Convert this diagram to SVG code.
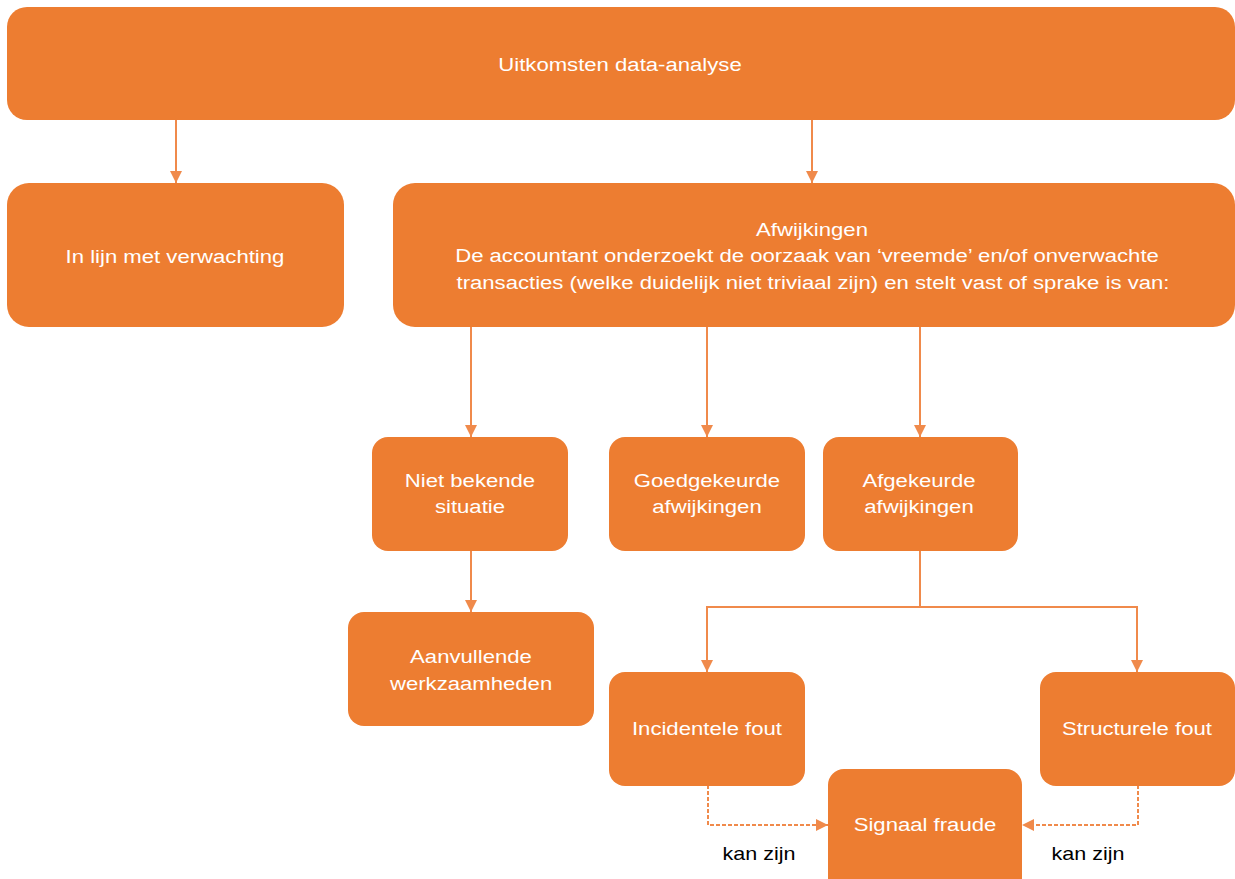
<svg xmlns="http://www.w3.org/2000/svg" width="1235" height="879" viewBox="0 0 1235 879">
<style>
.box{fill:#ED7D31;}
.t{font-family:"Liberation Sans",Arial,sans-serif;font-size:18px;fill:#FFFFFF;text-anchor:middle;transform-box:fill-box;transform-origin:center;transform:scaleX(1.23);}
.c{stroke:#F08A4B;stroke-width:2;fill:none;}
.d{stroke:#F08A4B;stroke-width:2;fill:none;stroke-dasharray:4,2;}
.k{font-family:"Liberation Sans",Arial,sans-serif;font-size:19px;fill:#000;text-anchor:middle;}
</style>
<defs>
<marker id="ah" viewBox="0 0 10 10" refX="10" refY="5" markerWidth="6" markerHeight="6" markerUnits="strokeWidth" orient="auto">
<path d="M0,0 L10,5 L0,10 z" fill="#F08A4B"/>
</marker>
</defs>
<rect width="1235" height="879" fill="#FFFFFF"/>
<g id="connectors">
<path class="c" d="M176,120 V183" marker-end="url(#ah)"/>
<path class="c" d="M812,120 V183" marker-end="url(#ah)"/>
<path class="c" d="M471,327 V437" marker-end="url(#ah)"/>
<path class="c" d="M707,327 V437" marker-end="url(#ah)"/>
<path class="c" d="M920,327 V437" marker-end="url(#ah)"/>
<path class="c" d="M471,550 V612" marker-end="url(#ah)"/>
<path class="c" d="M920,550 V607 H707 V672" marker-end="url(#ah)"/>
<path class="c" d="M920,607 H1137 V672" marker-end="url(#ah)"/>
<path class="d" d="M708,785 V825 H828" marker-end="url(#ah)"/>
<path class="d" d="M1138,785 V825 H1022" marker-end="url(#ah)"/>
</g>
<g id="n-top"><rect class="box" x="7" y="7" width="1228" height="113" rx="20"/><text class="t" x="620" y="71">Uitkomsten data-analyse</text></g>
<g id="n-lijn"><rect class="box" x="7" y="183" width="337" height="144" rx="22"/><text class="t" x="175" y="263">In lijn met verwachting</text></g>
<g id="n-afw"><rect class="box" x="393" y="183" width="842" height="144" rx="22"/>
<text class="t" x="812" y="236">Afwijkingen</text>
<text class="t" x="807" y="262">De accountant onderzoekt de oorzaak van ‘vreemde’ en/of onverwachte</text>
<text class="t" x="813" y="289">transacties (welke duidelijk niet triviaal zijn) en stelt vast of sprake is van:</text></g>
<g id="n-niet"><rect class="box" x="372" y="437" width="196" height="114" rx="16"/><text class="t" x="470" y="487">Niet bekende</text><text class="t" x="470" y="513">situatie</text></g>
<g id="n-goed"><rect class="box" x="609" y="437" width="196" height="114" rx="16"/><text class="t" x="707" y="487">Goedgekeurde</text><text class="t" x="707" y="513">afwijkingen</text></g>
<g id="n-afg"><rect class="box" x="823" y="437" width="195" height="114" rx="16"/><text class="t" x="919" y="487">Afgekeurde</text><text class="t" x="919" y="513">afwijkingen</text></g>
<g id="n-aanv"><rect class="box" x="348" y="612" width="246" height="114" rx="16"/><text class="t" x="471" y="663">Aanvullende</text><text class="t" x="471" y="690">werkzaamheden</text></g>
<g id="n-inc"><rect class="box" x="609" y="672" width="196" height="114" rx="16"/><text class="t" x="707" y="735">Incidentele fout</text></g>
<g id="n-str"><rect class="box" x="1040" y="672" width="195" height="114" rx="16"/><text class="t" x="1137" y="735">Structurele fout</text></g>
<g id="n-sig"><rect class="box" x="828" y="769" width="194" height="125" rx="16"/><text class="t" x="925" y="831">Signaal fraude</text></g>
<g id="labels">
<text class="k" x="759" y="860" textLength="73" lengthAdjust="spacingAndGlyphs">kan zijn</text>
<text class="k" x="1088" y="860" textLength="73" lengthAdjust="spacingAndGlyphs">kan zijn</text>
</g>
</svg>
